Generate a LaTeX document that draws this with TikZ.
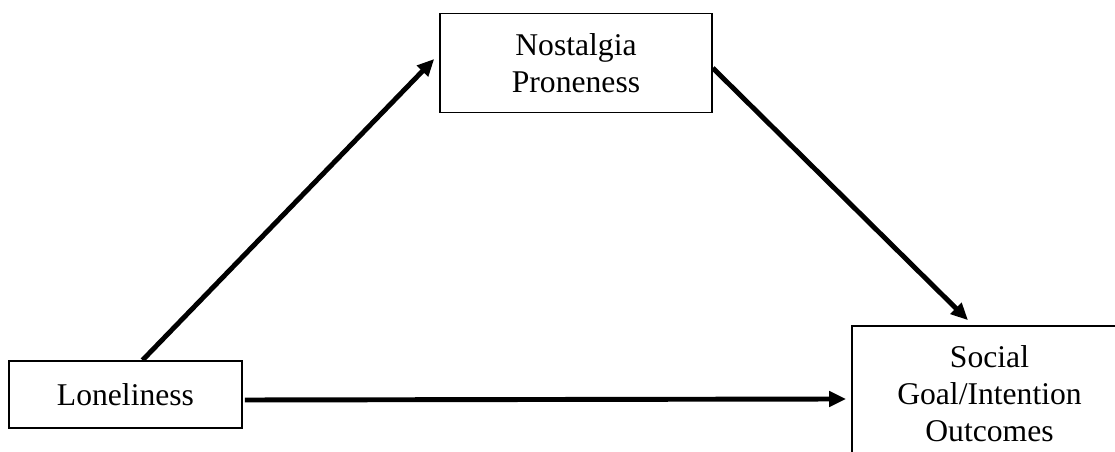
\documentclass[tikz,border=0pt]{standalone}
\usepackage{fontspec}
\setmainfont{Liberation Serif}
\usetikzlibrary{arrows.meta}
\tikzset{boxnode/.style={draw, line width=0.9pt, align=center, inner sep=0pt,
      font=\fontsize{18}{21}\selectfont}}
\tikzset{pathline/.style={line width=2.8pt,
      -{Triangle[length=0.34cm,width=0.3cm]}}}

\begin{document}
\begin{tikzpicture}
    \useasboundingbox (0,0) rectangle (22.3,9.04);
    \clip (0,0) rectangle (22.3,9.04);
    \node[boxnode, minimum width=4.66cm, minimum height=1.34cm] (lone) at (2.51,1.15) {Loneliness};
    \node[boxnode, minimum width=5.44cm, minimum height=1.98cm] (nost) at (11.52,7.78) {Nostalgia\\Proneness};
    \node[boxnode, minimum width=5.5cm, minimum height=2.7cm] (social) at (19.79,1.17) {Social\\Goal/Intention\\Outcomes};

    \draw[pathline] ([xshift=0.34cm]lone.north) -- ([shift={(-0.1,0.08)}]nost.west);
    \draw[pathline] ([yshift=-0.1cm]nost.east) -- ([shift={(-0.43,0.1)}]social.north);
    \draw[pathline] ([shift={(0.04,-0.11)}]lone.east) -- ([shift={(-0.1,-0.11)}]social.west);
\end{tikzpicture}
\end{document}
